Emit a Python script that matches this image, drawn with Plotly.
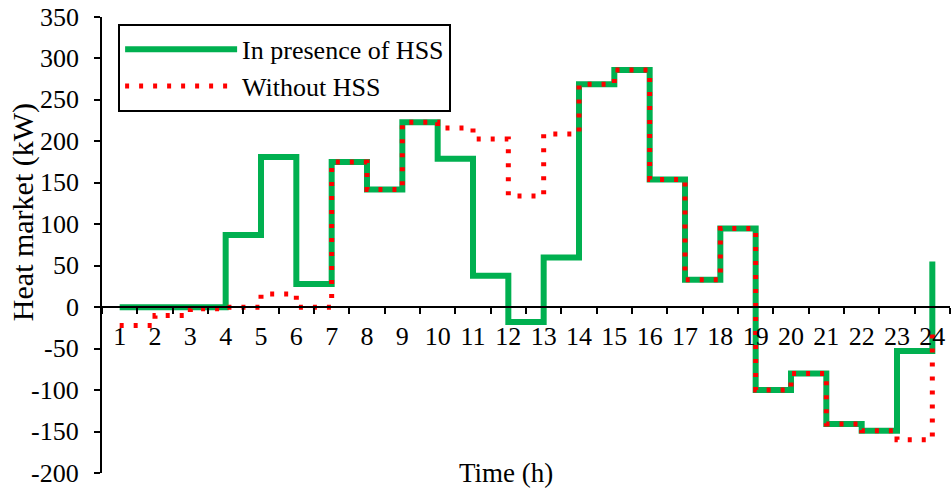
import plotly.graph_objects as go

# ---- data ----
hours = list(range(1, 25))
hour_labels = [str(h) for h in hours]
with_hss = [0, 0, 0, 87, 181, 28, 175, 142, 223, 179, 38, -18,
            60, 269, 286, 154, 33, 95, -100, -80, -141, -149, -53, 55]
without_hss = [-22, -10, -2, 0, 16, 0, 175, 142, 223, 216, 203, 134,
               209, 269, 286, 154, 33, 95, -100, -80, -141, -149, -160, -28]
y_ticks = list(range(-200, 351, 50))
y_tick_labels = [str(v) for v in y_ticks]
y_min, y_max = -200, 350

FONT = "Liberation Serif, Times New Roman, Times, serif"
TXT = dict(family=FONT, size=26, color="black")

fig = go.Figure()
fig.add_trace(go.Scatter(
    x=hours, y=with_hss, mode="lines", name="In presence of HSS",
    line=dict(shape="hv", color="#00B050", width=6)))
fig.add_trace(go.Scatter(
    x=hours, y=without_hss, mode="lines", name="Without HSS",
    line=dict(shape="hv", color="#FF0000", width=5, dash="4px,10px")))

# y tick labels placed through the y scale
annotations = [dict(text=lab, xref="paper", yref="y", x=0, y=val,
                    xanchor="right", yanchor="middle", xshift=-21,
                    showarrow=False, font=TXT)
               for val, lab in zip(y_ticks, y_tick_labels)]
annotations.append(dict(text="Heat market (kW)", xref="paper", yref="paper",
                        x=0, y=0.572, xanchor="center", yanchor="middle",
                        xshift=-79, textangle=-90, showarrow=False,
                        font=dict(family=FONT, size=30, color="black")))
annotations.append(dict(text="Time (h)", xref="paper", yref="paper",
                        x=0.476, y=0, xanchor="center", yanchor="middle",
                        showarrow=False, font=dict(family=FONT, size=27, color="black")))

fig.update_layout(
    width=952, height=495,
    margin=dict(l=102, r=2, t=17, b=22, autoexpand=False),
    paper_bgcolor="white", plot_bgcolor="white",
    font=TXT,
    xaxis=dict(
        range=[0.5, 24.5], tickmode="array", tickvals=hours, ticktext=hour_labels,
        tickfont=TXT, ticklabelstandoff=6, automargin=False,
        ticks="", showline=True, linecolor="black", linewidth=2,
        showgrid=False, zeroline=False,
        anchor="free", position=(0 - y_min) / (y_max - y_min),
        minor=dict(ticks="outside", ticklen=6, tickwidth=2, tickcolor="black",
                   tick0=0.5, dtick=1, showgrid=False),
    ),
    yaxis=dict(
        range=[y_min, y_max], tickmode="array", tickvals=y_ticks,
        showticklabels=False, automargin=False,
        ticks="outside", ticklen=6, tickwidth=2, tickcolor="black",
        showline=True, linecolor="black", linewidth=2,
        showgrid=False, zeroline=False,
    ),
    legend=dict(
        x=0.019, y=0.985, xanchor="left", yanchor="top",
        bgcolor="white", bordercolor="black", borderwidth=2,
        font=TXT, itemwidth=112,
    ),
    annotations=annotations,
)

fig.write_html("out.html")
